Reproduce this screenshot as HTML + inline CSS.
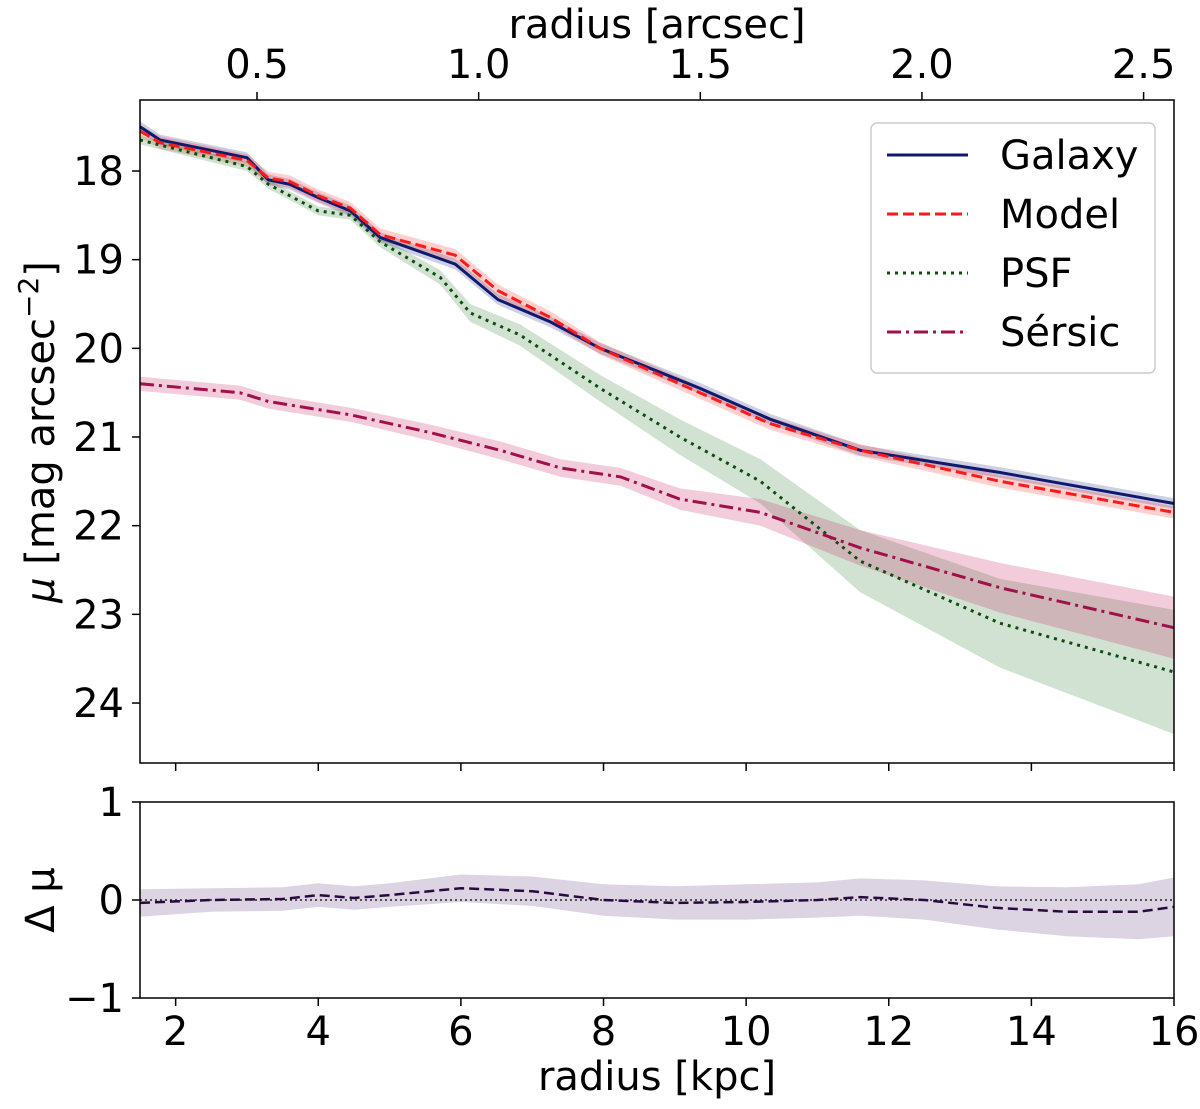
<!DOCTYPE html>
<html><head><meta charset="utf-8"><style>
body{margin:0;background:#fff}
svg{font-family:"DejaVu Sans","Liberation Sans",sans-serif}
</style></head><body>
<svg id="c" width="1200" height="1104" xmlns="http://www.w3.org/2000/svg"></svg>
<script>
const radiusKpc=[1.5,1.78,3.0,3.3,3.6,4.0,4.45,4.87,5.92,6.52,7.25,7.95,9.35,10.34,11.6,13.56,16.0];
const galaxyMu=[17.5,17.65,17.85,18.1,18.15,18.3,18.45,18.75,19.05,19.45,19.7,20.0,20.45,20.8,21.15,21.4,21.75];
const modelMu=[17.55,17.68,17.88,18.08,18.12,18.28,18.42,18.72,18.95,19.35,19.65,20.0,20.5,20.85,21.15,21.5,21.85];
const psfRadius=[1.5,3.0,3.3,4.0,4.45,4.87,5.71,6.13,6.83,7.95,9.07,10.2,11.6,13.56,16.0];
const psfMu=[17.65,17.95,18.15,18.45,18.5,18.8,19.2,19.6,19.85,20.45,21.0,21.5,22.4,23.1,23.65];
const psfErr=[0.05,0.05,0.05,0.05,0.05,0.06,0.08,0.1,0.12,0.15,0.2,0.25,0.35,0.5,0.7];
const sersicRadius=[1.5,2.9,3.3,4.45,5.57,6.55,7.4,8.24,9.07,10.2,11.6,13.56,16.0];
const sersicMu=[20.4,20.5,20.6,20.75,20.95,21.15,21.35,21.45,21.7,21.85,22.25,22.7,23.15];
const sersicErr=[0.08,0.08,0.08,0.08,0.09,0.1,0.1,0.1,0.12,0.15,0.2,0.28,0.35];
const residRadius=[1.5,2.5,3.5,4.0,4.5,5.0,6.0,7.0,8.0,9.0,10.0,11.0,11.6,12.5,13.5,14.5,15.5,16.0];
const residMu=[-0.03,0.0,0.01,0.05,0.02,0.05,0.12,0.09,0.0,-0.03,-0.02,0.0,0.03,0.0,-0.08,-0.12,-0.12,-0.07];
const residErr=[0.14,0.12,0.12,0.12,0.12,0.12,0.14,0.15,0.16,0.17,0.18,0.18,0.19,0.2,0.22,0.25,0.28,0.3];
const kpcTicks=[2,4,6,8,10,12,14,16];
const arcTicks=[0.5,1.0,1.5,2.0,2.5];
const muTicks=[18,19,20,21,22,23,24];
const resTicks=[1,0,-1];

const svg=document.getElementById('c');const NS='http://www.w3.org/2000/svg';
function el(t,a,txt){const e=document.createElementNS(NS,t);for(const k in a)e.setAttribute(k,a[k]);if(txt!==undefined)e.textContent=txt;svg.appendChild(e);return e;}
const L=140,R=1174,FS=40;
const X=k=>L+(k-1.5)*(R-L)/14.5;
const XA=a=>257+(a-0.5)*443.3;
const Y=m=>171+(m-18)*88.67;
const YR=v=>900-v*98;
function pts(xs,ys,fy){return xs.map((x,i)=>X(x).toFixed(1)+','+fy(ys[i]).toFixed(1)).join(' ');}
function band(xs,ys,err,fy,color,name){
 const up=xs.map((x,i)=>X(x).toFixed(1)+','+fy(ys[i]-err[i]).toFixed(1));
 const dn=xs.map((x,i)=>X(x).toFixed(1)+','+fy(ys[i]+err[i]).toFixed(1)).reverse();
 const p=el('polygon',{points:up.concat(dn).join(' '),fill:color,'fill-opacity':0.22});
 
 
}
const galErr=galaxyMu.map(()=>0.06);
const modErr=modelMu.map(()=>0.07);
band(radiusKpc,galaxyMu,galErr,Y,'#1a237e','galaxy-band');
band(radiusKpc,modelMu,modErr,Y,'#ff2a1a','model-band');
band(psfRadius,psfMu,psfErr,Y,'#2e7d32','psf-band');
band(sersicRadius,sersicMu,sersicErr,Y,'#c2185b','sersic-band');
function line(xs,ys,fy,col,dash,name,w){const p=el('polyline',{points:pts(xs,ys,fy),fill:'none',stroke:col,'stroke-width':w||3,'stroke-dasharray':dash});
 
 }
line(radiusKpc,galaxyMu,Y,'#0d1a6e','none','galaxy-line');
line(radiusKpc,modelMu,Y,'#ff1a1a','11 5','model-line');
line(psfRadius,psfMu,Y,'#0b4d0b','3 5','psf-line');
line(sersicRadius,sersicMu,Y,'#a0104a','14 5 3 5','sersic-line');
el('rect',{x:L,y:100,width:R-L,height:663,fill:'none',stroke:'#000','stroke-width':1.5,});
muTicks.forEach(m=>{el('line',{x1:L-8,x2:L,y1:Y(m),y2:Y(m),stroke:'#000','stroke-width':1.5});
 el('text',{x:L-16,y:Y(m)+14,'font-size':FS,'text-anchor':'end',},m);});
kpcTicks.forEach(k=>{el('line',{x1:X(k),x2:X(k),y1:763,y2:771,stroke:'#000','stroke-width':1.5});
 el('line',{x1:X(k),x2:X(k),y1:998,y2:1006,stroke:'#000','stroke-width':1.5});
 el('text',{x:X(k),y:1045,'font-size':FS,'text-anchor':'middle',},k);});
arcTicks.forEach(a=>{el('line',{x1:XA(a),x2:XA(a),y1:92,y2:100,stroke:'#000','stroke-width':1.5});
 el('text',{x:XA(a),y:78,'font-size':FS,'text-anchor':'middle',},a.toFixed(1));});
el('text',{x:657,y:38,'font-size':FS,'text-anchor':'middle',},'radius [arcsec]');
const yt=el('text',{x:0,y:0,'font-size':FS,'text-anchor':'middle',transform:'translate(54,432) rotate(-90)',});
yt.innerHTML='<tspan font-style="italic">μ</tspan> [mag arcsec<tspan dy="-16" font-size="28">−2</tspan><tspan dy="16">]</tspan>';
el('rect',{x:871,y:123,width:284,height:250,rx:6,fill:'#fff','fill-opacity':0.85,stroke:'#ccc','stroke-width':1.5,});
[['Galaxy','#0d1a6e','none'],['Model','#ff1a1a','11 5'],['PSF','#0b4d0b','3 5'],['Sérsic','#a0104a','14 5 3 5']].forEach((e,i)=>{
 const y=155+i*59;
 el('line',{x1:887,x2:968,y1:y,y2:y,stroke:e[1],'stroke-width':3,'stroke-dasharray':e[2]});
 el('text',{x:1000,y:y+14,'font-size':FS,},e[0]);});
band(residRadius,residMu,residErr,YR,'#5e3a7e','residual-band');
el('line',{x1:L,x2:R,y1:YR(0),y2:YR(0),stroke:'#000','stroke-width':1.2,'stroke-dasharray':'2 3',});
line(residRadius,residMu,YR,'#2a0a3e','10 5','residual-line',2.5);
el('rect',{x:L,y:802,width:R-L,height:196,fill:'none',stroke:'#000','stroke-width':1.5,});
resTicks.forEach(v=>{el('line',{x1:L-8,x2:L,y1:YR(v),y2:YR(v),stroke:'#000','stroke-width':1.5});
 el('text',{x:L-16,y:YR(v)+14,'font-size':FS,'text-anchor':'end',},v<0?'−1':v);});
el('text',{x:0,y:0,'font-size':FS,'text-anchor':'middle',transform:'translate(54,900) rotate(-90)',},'Δ μ');
el('text',{x:657,y:1090,'font-size':FS,'text-anchor':'middle',},'radius [kpc]');
</script>
</body></html>
